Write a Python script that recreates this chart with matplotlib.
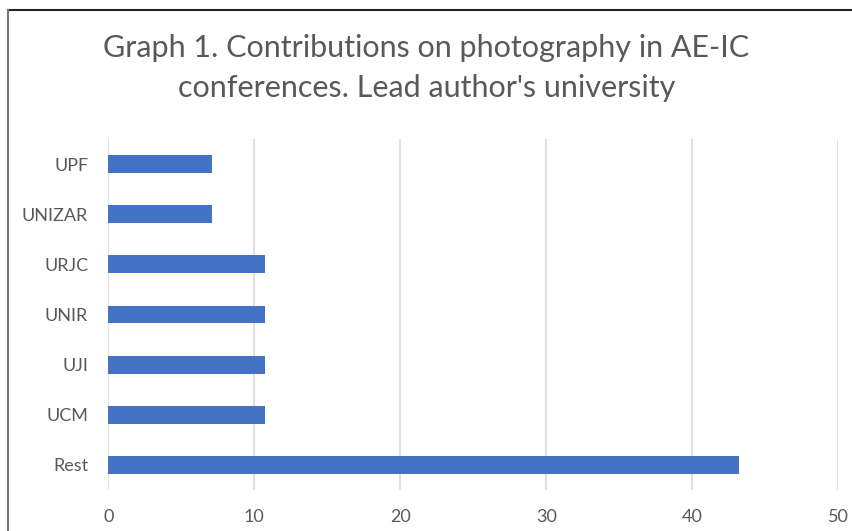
import matplotlib.pyplot as plt
from matplotlib.lines import Line2D

# data (share of contributions, %)
universities = ["UPF", "UNIZAR", "URJC", "UNIR", "UJI", "UCM", "Rest"]
values = [7.1, 7.1, 10.7, 10.7, 10.7, 10.7, 43.2]
x_ticks = [0, 10, 20, 30, 40, 50]

plt.rcParams["font.family"] = ["Lato", "DejaVu Sans"]
grey = "#595959"

fig = plt.figure(figsize=(8.53, 5.31), dpi=100)
ax = fig.add_axes([0.127, 0.0772, 0.856, 0.661])

# Excel-like: first category on top
pos = list(range(len(universities)))[::-1]
ax.barh(pos, values, height=0.355, color="#4472C4", zorder=3)

ax.set_xlim(0, 50)
ax.set_ylim(-0.5, len(universities) - 0.5)
ax.set_xticks(x_ticks)
ax.set_yticks(pos)
ax.set_yticklabels(universities)
ax.xaxis.grid(True, color="#D9D9D9", linewidth=1.2, zorder=0)
for s in ax.spines.values():
    s.set_visible(False)
ax.tick_params(axis="both", length=0, labelsize=13, colors=grey)
ax.tick_params(axis="x", pad=13.5)
ax.tick_params(axis="y", pad=14.5)

fig.text(0.5, 0.91, "Graph 1. Contributions on photography in AE-IC",
         ha="center", va="center", fontsize=22, color=grey)
fig.text(0.5, 0.834, "conferences. Lead author's university",
         ha="center", va="center", fontsize=22, color=grey)

# chart frame (only top and left edges visible in the crop)
fig.add_artist(Line2D([0.009, 1.0], [0.981, 0.981], color="#222222", linewidth=1.5))
fig.add_artist(Line2D([0.009, 0.009], [0.0, 0.981], color="#777777", linewidth=1.5))

fig.savefig("out.png", dpi=100)
